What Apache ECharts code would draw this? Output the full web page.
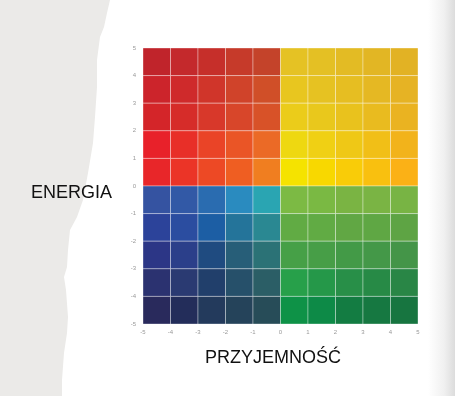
<!DOCTYPE html>
<html><head><meta charset="utf-8">
<script src="https://cdn.jsdelivr.net/npm/echarts@6/dist/echarts.min.js"></script>
<style>html,body{margin:0;padding:0;background:#fff}#c{width:455px;height:396px}</style>
</head><body><div id="c"></div>
<script>
// Cell lower-left corners along each axis
var xStarts = [-5, -4, -3, -2, -1, 0, 1, 2, 3, 4];
var yStarts = [4, 3, 2, 1, 0, -1, -2, -3, -4, -5]; // top row first
var tickValues = [-5, -4, -3, -2, -1, 0, 1, 2, 3, 4, 5];
// Colors per row (top to bottom), columns left to right
var cellColors = [
  ['#c0242b','#c4292c','#c62f2a','#c63a2a','#c4432a','#e5c224','#e4c024','#e3bb24','#e2b624','#e2b224'],
  ['#cc242b','#cf2a2b','#d0352a','#d0432a','#d04f28','#e8c61f','#e6c222','#e6be22','#e5b823','#e6b324'],
  ['#d42529','#d62c29','#d8382a','#d8462a','#d85228','#ebcc1a','#e9c81c','#e9c21d','#e9bb1f','#eab321'],
  ['#e8212a','#e82f28','#ea4427','#ea5526','#eb6a26','#eed811','#f0d014','#efc816','#f1bf17','#f2b31b'],
  ['#e82629','#eb3427','#ed4925','#ef5e22','#f07e20','#f5e300','#f8d800','#f9cc08','#f9c00f','#fbb116'],
  ['#3553a1','#3259a6','#2a6cb0','#2a8bbf','#2aa5b2','#7cba44','#7ab943','#7ab443','#7ab444','#78b444'],
  ['#2c439a','#2b4da0','#1c5ea4','#24749a','#2a8892','#61ab44','#61ab44','#61a744','#5fa744','#5ea444'],
  ['#2c3686','#2b3f8a','#1f4b80','#275e78','#2b7276','#46a047','#479e47','#439a47','#449848','#449548'],
  ['#2b3270','#2a3a72','#213f6b','#26506a','#2b5e66','#27a04a','#259849','#288f48','#278a46','#298646'],
  ['#292a5c','#232d5a','#233a5c','#25435a','#274c58','#0e9247','#0d8a47','#137c42','#167841','#177540']
];
var xName = 'PRZYJEMNOŚĆ';
var yName = 'ENERGIA';

var data = [];
for (var r = 0; r < yStarts.length; r++) {
  for (var c = 0; c < xStarts.length; c++) {
    data.push([xStarts[c], yStarts[r], cellColors[r][c]]);
  }
}

var chart = echarts.init(document.getElementById('c'), null, {renderer: 'canvas'});
var tornEdge = [[0,0],[110,0],[107,13],[104,27],[100,37],[97,60],[97,87],[95,117],[93,143],[88,173],[83,200],[77,217],[70,230],[68,250],[67,267],[64,277],[66,290],[68,317],[67,333],[64,353],[62,380],[62,396],[0,396]];
chart.setOption({
  animation: false,
  backgroundColor: '#ffffff',
  graphic: [
    {type: 'polygon', z: -10, silent: true, shape: {points: tornEdge}, style: {fill: '#ebeae8'}},
    {type: 'rect', z: -10, silent: true, shape: {x: 428, y: 0, width: 27, height: 396},
      style: {fill: new echarts.graphic.LinearGradient(0, 0, 1, 0, [
        {offset: 0, color: '#ffffff'}, {offset: 0.6, color: '#f0f0f0'}, {offset: 1, color: '#dcdcdc'}])}},
    {type: 'text', x: 31, y: 193, style: {text: yName, font: '18px "Liberation Sans"', fill: '#111', verticalAlign: 'middle', align: 'left'}},
    {type: 'text', x: 205, y: 358, style: {text: xName, font: '18px "Liberation Sans"', fill: '#111', verticalAlign: 'middle', align: 'left'}}
  ],
  grid: {left: 143, top: 48, width: 275, height: 276},
  xAxis: {
    type: 'value', min: -5, max: 5, interval: 1,
    axisLine: {show: false}, axisTick: {show: false}, splitLine: {show: false},
    axisLabel: {fontSize: 6, color: '#999', margin: 5, fontFamily: 'Liberation Sans'}
  },
  yAxis: {
    type: 'value', min: -5, max: 5, interval: 1,
    axisLine: {show: false}, axisTick: {show: false}, splitLine: {show: false},
    axisLabel: {fontSize: 6, color: '#999', margin: 7, fontFamily: 'Liberation Sans'}
  },
  series: [{
    type: 'custom',
    data: data,
    renderItem: function (params, api) {
      var x0 = api.value(0), y0 = api.value(1);
      var p1 = api.coord([x0, y0 + 1]);
      var p2 = api.coord([x0 + 1, y0]);
      return {
        type: 'rect',
        shape: {x: p1[0], y: p1[1], width: p2[0] - p1[0], height: p2[1] - p1[1]},
        style: {fill: cellColors[yStarts.indexOf(y0)][xStarts.indexOf(x0)], stroke: 'rgba(255,255,255,0.35)', lineWidth: 1}
      };
    }
  }]
});
</script></body></html>
